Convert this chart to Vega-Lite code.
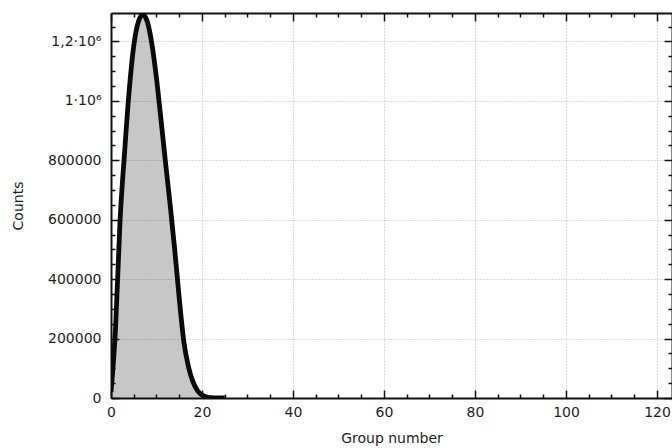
{
  "$schema": "https://vega.github.io/schema/vega-lite/v6.json",
  "width": 561,
  "height": 385,
  "autosize": "none",
  "padding": {"left": 111, "top": 13, "right": 0, "bottom": 50},
  "background": "white",
  "config": {"view": {"stroke": null}, "font": "DejaVu Sans"},
  "data": {
    "values": [
      {"group": 0, "counts": 20000},
      {"group": 1, "counts": 235000},
      {"group": 2, "counts": 600000},
      {"group": 3, "counts": 830000},
      {"group": 4, "counts": 1035000},
      {"group": 5, "counts": 1185000},
      {"group": 6, "counts": 1265000},
      {"group": 7, "counts": 1290000},
      {"group": 8, "counts": 1265000},
      {"group": 9, "counts": 1190000},
      {"group": 10, "counts": 1075000},
      {"group": 11, "counts": 935000},
      {"group": 12, "counts": 790000},
      {"group": 13, "counts": 650000},
      {"group": 14, "counts": 500000},
      {"group": 15, "counts": 335000},
      {"group": 16, "counts": 190000},
      {"group": 17, "counts": 107000},
      {"group": 18, "counts": 55000},
      {"group": 19, "counts": 25000},
      {"group": 20, "counts": 10000},
      {"group": 21, "counts": 3500},
      {"group": 22, "counts": 1200},
      {"group": 23, "counts": 400},
      {"group": 24, "counts": 100},
      {"group": 25, "counts": 0}
    ]
  },
  "layer": [
    {
      "mark": {"type": "area", "interpolate": "monotone", "color": "#000000", "opacity": 0.22, "clip": true},
      "encoding": {
        "x": {
          "field": "group", "type": "quantitative",
          "scale": {"domain": [0, 123.3], "nice": false, "zero": false},
          "axis": {
            "orient": "bottom",
            "values": [0, 20, 40, 60, 80, 100, 120],
            "title": "Group number",
            "titleFontSize": 14, "titleFontWeight": "normal", "titleColor": "#1e1e1e", "titlePadding": 12,
            "labelFontSize": 14, "labelColor": "#1e1e1e", "labelPadding": 7,
            "labelFlush": false, "labelOverlap": false,
            "ticks": false,
            "domainColor": "#111111", "domainWidth": 2,
            "grid": true, "gridColor": "#b8b8b8", "gridDash": [1, 2], "gridWidth": 1
          }
        },
        "y": {
          "field": "counts", "type": "quantitative",
          "scale": {"domain": [0, 1295500], "nice": false, "zero": true},
          "axis": {
            "orient": "left",
            "values": [0, 200000, 400000, 600000, 800000, 1000000, 1200000],
            "labelExpr": "datum.value == 1000000 ? '1·10⁶' : datum.value > 1000000 ? replace(format(datum.value / 1000000, '.1f'), '.', ',') + '·10⁶' : format(datum.value, 'd')",
            "title": "Counts",
            "titleFontSize": 14, "titleFontWeight": "normal", "titleColor": "#1e1e1e", "titlePadding": 22,
            "labelFontSize": 14, "labelColor": "#1e1e1e", "labelPadding": 10,
            "labelFlush": false, "labelOverlap": false,
            "ticks": false,
            "domainColor": "#111111", "domainWidth": 2,
            "grid": true, "gridColor": "#b8b8b8", "gridDash": [1, 2], "gridWidth": 1
          }
        }
      }
    },
    {
      "mark": {"type": "line", "interpolate": "monotone", "color": "#0a0a0a", "strokeWidth": 4.8, "clip": true},
      "encoding": {
        "x": {"field": "group", "type": "quantitative", "scale": {"domain": [0, 123.3], "nice": false, "zero": false}, "axis": null},
        "y": {"field": "counts", "type": "quantitative", "scale": {"domain": [0, 1295500], "nice": false}, "axis": null}
      }
    },
    {
      "mark": {"type": "point", "opacity": 0},
      "encoding": {
        "x": {
          "field": "group", "type": "quantitative",
          "scale": {"domain": [0, 123.3], "nice": false, "zero": false},
          "axis": {
            "orient": "bottom", "title": null, "labels": false, "domain": false, "grid": false,
            "values": [0, 5, 10, 15, 20, 25, 30, 35, 40, 45, 50, 55, 60, 65, 70, 75, 80, 85, 90, 95, 100, 105, 110, 115, 120],
            "ticks": true, "tickColor": "#111111", "tickWidth": 1.5,
            "tickSize": {"condition": {"test": "datum.value % 20 === 0", "value": -8}, "value": -4}
          }
        },
        "y": {
          "field": "counts", "type": "quantitative",
          "scale": {"domain": [0, 1295500], "nice": false},
          "axis": {
            "orient": "left", "title": null, "labels": false, "domain": false, "grid": false,
            "values": [0, 50000, 100000, 150000, 200000, 250000, 300000, 350000, 400000, 450000, 500000, 550000, 600000, 650000, 700000, 750000, 800000, 850000, 900000, 950000, 1000000, 1050000, 1100000, 1150000, 1200000, 1250000],
            "ticks": true, "tickColor": "#111111", "tickWidth": 1.5,
            "tickSize": {"condition": {"test": "datum.value % 200000 === 0", "value": -8}, "value": -4}
          }
        }
      }
    },
    {
      "mark": {"type": "point", "opacity": 0},
      "encoding": {
        "x": {
          "field": "group", "type": "quantitative",
          "scale": {"domain": [0, 123.3], "nice": false, "zero": false},
          "axis": {
            "orient": "top", "title": null, "labels": false, "grid": false,
            "domain": true, "domainColor": "#111111", "domainWidth": 2,
            "values": [0, 5, 10, 15, 20, 25, 30, 35, 40, 45, 50, 55, 60, 65, 70, 75, 80, 85, 90, 95, 100, 105, 110, 115, 120],
            "ticks": true, "tickColor": "#111111", "tickWidth": 1.5,
            "tickSize": {"condition": {"test": "datum.value % 20 === 0", "value": -8}, "value": -4}
          }
        },
        "y": {
          "field": "counts", "type": "quantitative",
          "scale": {"domain": [0, 1295500], "nice": false},
          "axis": {
            "orient": "right", "title": null, "labels": false, "grid": false,
            "domain": true, "domainColor": "#111111", "domainWidth": 2,
            "values": [0, 50000, 100000, 150000, 200000, 250000, 300000, 350000, 400000, 450000, 500000, 550000, 600000, 650000, 700000, 750000, 800000, 850000, 900000, 950000, 1000000, 1050000, 1100000, 1150000, 1200000, 1250000],
            "ticks": true, "tickColor": "#111111", "tickWidth": 1.5,
            "tickSize": {"condition": {"test": "datum.value % 200000 === 0", "value": -8}, "value": -4}
          }
        }
      }
    }
  ],
  "resolve": {"axis": {"x": "independent", "y": "independent"}}
}
